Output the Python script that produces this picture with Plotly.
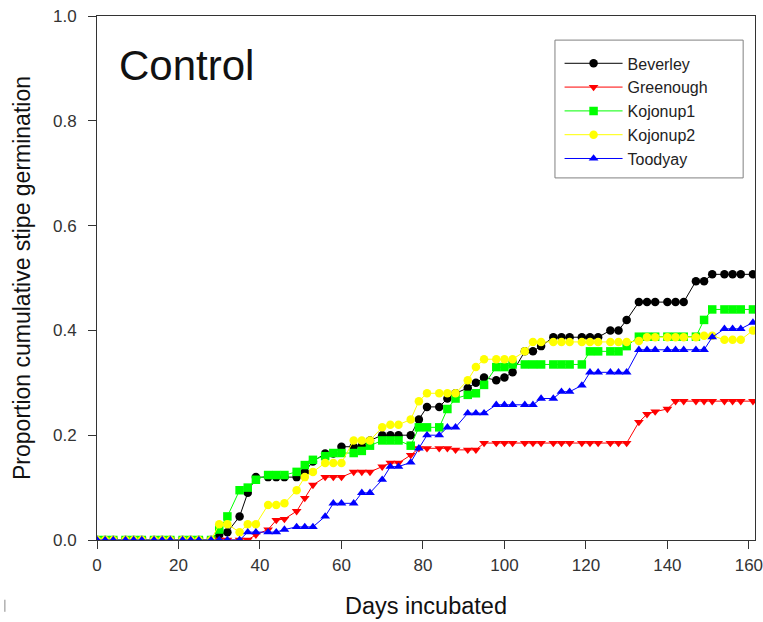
import plotly.graph_objects as go

days = [0, 2, 4, 7, 9, 11, 14, 16, 18, 21, 23, 25, 28, 30, 32, 35, 37, 39, 42, 44,
        46, 49, 51, 53, 56, 58, 60, 63, 65, 67, 70, 72, 74, 77, 79, 81, 84, 86, 88, 91,
        93, 95, 98, 100, 102, 105, 107, 109, 112, 114, 116, 119, 121, 123, 126, 128, 130, 133, 135, 137,
        140, 142, 144, 147, 149, 151, 154, 156, 158, 161]

beverley = [0, 0, 0, 0, 0, 0, 0, 0, 0, 0, 0, 0, 0, 0.01, 0.015, 0.045, 0.09, 0.12, 0.12, 0.12,
            0.12, 0.12, 0.13, 0.15, 0.165, 0.165, 0.178, 0.178, 0.18, 0.19, 0.2, 0.2, 0.2, 0.2, 0.23, 0.254, 0.254, 0.27, 0.28, 0.29,
            0.3, 0.31, 0.305, 0.31, 0.32, 0.36, 0.36, 0.37, 0.387, 0.387, 0.387, 0.387, 0.387, 0.387, 0.40, 0.40, 0.42, 0.454, 0.454, 0.454,
            0.454, 0.454, 0.454, 0.494, 0.494, 0.507, 0.507, 0.507, 0.507, 0.507]

greenough = [0, 0, 0, 0, 0, 0, 0, 0, 0, 0, 0, 0, 0, 0, 0, 0, 0, 0.01, 0.02, 0.038,
             0.04, 0.055, 0.08, 0.105, 0.12, 0.12, 0.12, 0.13, 0.13, 0.13, 0.14, 0.147, 0.147, 0.162, 0.175, 0.175, 0.175, 0.175, 0.172, 0.172,
             0.172, 0.185, 0.185, 0.185, 0.185, 0.185, 0.185, 0.185, 0.185, 0.185, 0.185, 0.185, 0.185, 0.185, 0.185, 0.185, 0.185, 0.225, 0.24, 0.245,
             0.25, 0.265, 0.265, 0.265, 0.265, 0.265, 0.265, 0.265, 0.265, 0.265]

kojonup1 = [0, 0, 0, 0, 0, 0, 0, 0, 0, 0, 0, 0, 0, 0.02, 0.045, 0.095, 0.1, 0.115, 0.124, 0.124,
            0.124, 0.13, 0.143, 0.153, 0.16, 0.166, 0.166, 0.166, 0.17, 0.18, 0.19, 0.19, 0.19, 0.18, 0.215, 0.215, 0.215, 0.25, 0.27, 0.277,
            0.28, 0.296, 0.33, 0.33, 0.335, 0.335, 0.335, 0.335, 0.335, 0.335, 0.335, 0.335, 0.36, 0.36, 0.36, 0.36, 0.37, 0.388, 0.388, 0.388,
            0.388, 0.388, 0.388, 0.388, 0.42, 0.44, 0.44, 0.44, 0.44, 0.44]

kojonup2 = [0, 0, 0, 0, 0, 0, 0, 0, 0, 0, 0, 0, 0, 0.03, 0.03, 0.015, 0.03, 0.03, 0.067, 0.067,
            0.07, 0.095, 0.12, 0.13, 0.147, 0.147, 0.147, 0.19, 0.19, 0.19, 0.215, 0.22, 0.22, 0.23, 0.265, 0.28, 0.28, 0.28, 0.28, 0.305,
            0.33, 0.345, 0.345, 0.345, 0.345, 0.36, 0.378, 0.378, 0.378, 0.378, 0.378, 0.378, 0.378, 0.378, 0.378, 0.378, 0.378, 0.38, 0.387, 0.387,
            0.387, 0.387, 0.387, 0.387, 0.39, 0.39, 0.382, 0.382, 0.382, 0.40]

toodyay = [0, 0, 0, 0, 0, 0, 0, 0, 0, 0, 0, 0, 0, 0, 0, 0, 0.015, 0.015, 0.015, 0.015,
           0.02, 0.025, 0.025, 0.025, 0.045, 0.07, 0.07, 0.07, 0.09, 0.09, 0.115, 0.14, 0.14, 0.148, 0.175, 0.2, 0.2, 0.215, 0.215, 0.242,
           0.242, 0.242, 0.258, 0.258, 0.258, 0.258, 0.258, 0.27, 0.27, 0.283, 0.283, 0.295, 0.32, 0.32, 0.32, 0.32, 0.32, 0.363, 0.363, 0.363,
           0.363, 0.363, 0.363, 0.363, 0.363, 0.387, 0.403, 0.403, 0.403, 0.415]

series_names = ["Beverley", "Greenough", "Kojonup1", "Kojonup2", "Toodyay"]
series_values = [beverley, greenough, kojonup1, kojonup2, toodyay]
series_colors = ["#000000", "#FF0000", "#00FF00", "#FFFF00", "#0000FF"]
series_symbols = ["circle", "triangle-down", "square", "circle", "triangle-up"]

x_ticks = [0, 20, 40, 60, 80, 100, 120, 140, 160]
y_ticks = [0.0, 0.2, 0.4, 0.6, 0.8, 1.0]

fig = go.Figure()
for name, vals, col, sym in zip(series_names, series_values, series_colors, series_symbols):
    fig.add_trace(go.Scatter(
        x=days, y=vals, name=name, mode="lines+markers",
        line=dict(color=col, width=1),
        marker=dict(color=col, symbol=sym, size=8.5, line=dict(width=0)),
    ))

font_family = "Liberation Sans, Arial, sans-serif"
fig.update_layout(
    width=763, height=622,
    margin=dict(l=97, r=8, t=16, b=82, autoexpand=False),
    paper_bgcolor="white", plot_bgcolor="white",
    font=dict(family=font_family, color="#222222"),
    showlegend=True,
    legend=dict(
        x=0.703, y=0.942, xanchor="left", yanchor="top",
        borderwidth=0, bgcolor="rgba(0,0,0,0)",
        font=dict(size=16, color="#222222"),
        tracegroupgap=0, itemwidth=58,
    ),
    shapes=[
        dict(type="rect", xref="paper", yref="paper",
             x0=0.696, x1=0.982, y0=0.691, y1=0.954,
             line=dict(color="#808080", width=1), fillcolor="rgba(0,0,0,0)", layer="below"),
        dict(type="line", xref="paper", yref="paper",
             x0=-0.14, x1=-0.14, y0=-0.137, y1=-0.114,
             line=dict(color="#888888", width=1)),
    ],
    annotations=[dict(
        text="Control", x=0.03, y=0.905, xref="paper", yref="paper",
        xanchor="left", yanchor="middle", showarrow=False,
        font=dict(size=42, color="#111111", family=font_family),
    )],
)
fig.update_xaxes(
    range=[0, 161.5], tickvals=x_ticks, ticks="outside", ticklen=8,
    showline=True, linecolor="#333333", linewidth=1, mirror=True,
    showgrid=False, zeroline=False, tickcolor="#333333",
    tickfont=dict(size=17, color="#333333"), ticklabelstandoff=2,
    ticklabeloverflow="allow",
    title=dict(text="Days incubated", font=dict(size=23.5, color="#111111"), standoff=23),
)
fig.update_yaxes(
    range=[0, 1.0], tickvals=y_ticks, tickformat=".1f", ticks="outside", ticklen=8,
    showline=True, linecolor="#333333", linewidth=1, mirror=True,
    showgrid=False, zeroline=False, tickcolor="#333333",
    tickfont=dict(size=17, color="#333333"), ticklabelstandoff=8,
    title=dict(text="Proportion cumulative stipe germination", font=dict(size=23, color="#111111"), standoff=15),
)

fig.write_html("out.html")
